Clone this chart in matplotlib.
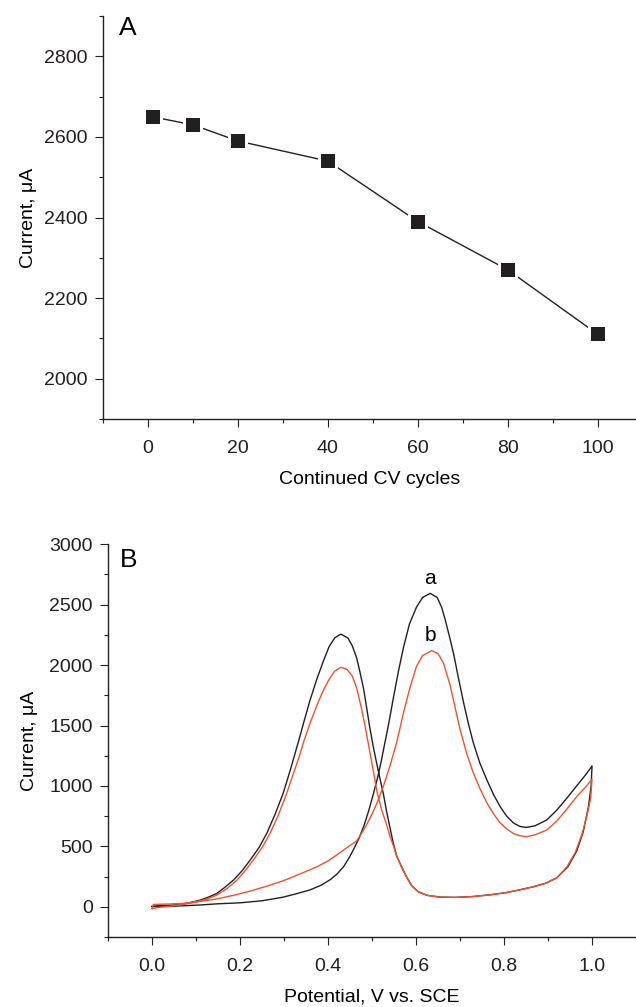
import matplotlib
matplotlib.use('Agg')
import matplotlib.pyplot as plt
import numpy as np
from matplotlib.ticker import MultipleLocator, FormatStrFormatter

# panel A: peak current vs. number of CV cycles
cycles = [1, 10, 20, 40, 60, 80, 100]
peakCurrent = [2650, 2630, 2590, 2540, 2390, 2270, 2110]

# panel B: cyclic voltammograms, forward scan 0 -> 1.0 V then back to 0
potA = [0.0, 0.05, 0.109, 0.15, 0.2, 0.25, 0.298, 0.33, 0.359, 0.385, 0.405,
        0.42, 0.435, 0.447, 0.458, 0.47, 0.481, 0.492, 0.503, 0.512, 0.52,
        0.526, 0.537, 0.548, 0.56, 0.571, 0.585, 0.601, 0.615, 0.632, 0.648,
        0.658, 0.666, 0.675, 0.685, 0.696, 0.708, 0.72, 0.73, 0.745, 0.761,
        0.776, 0.791, 0.806, 0.821, 0.836, 0.851, 0.87, 0.897, 0.92, 0.943,
        0.965, 0.985, 1.0,
        0.998, 0.992, 0.98, 0.965, 0.945, 0.92, 0.895, 0.867, 0.835, 0.806,
        0.77, 0.73, 0.69, 0.655, 0.625, 0.605, 0.59, 0.578, 0.566, 0.556,
        0.548, 0.541, 0.533, 0.526, 0.518, 0.511, 0.503, 0.495, 0.488, 0.481,
        0.472, 0.465, 0.455, 0.445, 0.429, 0.415, 0.402, 0.389, 0.375, 0.359,
        0.345, 0.336, 0.325, 0.314, 0.298, 0.28, 0.261, 0.243, 0.223, 0.205,
        0.185, 0.165, 0.147, 0.128, 0.109, 0.08, 0.05, 0.02, 0.0]
curA = [3, 5, 15, 25, 33, 50, 80, 110, 140, 180, 225,
        270, 331, 400, 475, 565, 665, 790, 935, 1060, 1190,
        1300, 1500, 1720, 1950, 2140, 2340, 2480, 2560, 2594, 2560,
        2480, 2380, 2250, 2100, 1900, 1690, 1500, 1360, 1190, 1050,
        930, 830, 750, 695, 665, 657, 670, 718, 800, 900,
        1000, 1090, 1165,
        1000, 830, 620, 460, 330, 240, 195, 166, 140, 118,
        100, 85, 78, 80, 95, 125, 175, 250, 340, 420,
        530, 650, 790, 930, 1060, 1180, 1320, 1480, 1640, 1800,
        1950, 2060, 2160, 2225, 2257, 2225, 2150, 2030, 1890, 1710,
        1530, 1410, 1270, 1130, 940, 770, 610, 490, 387, 300,
        221, 160, 110, 80, 55, 30, 15, 7, 3]

potB = [0.0, 0.003, 0.03, 0.071, 0.11, 0.147, 0.185, 0.223, 0.26, 0.298,
        0.335, 0.374, 0.40, 0.42, 0.443, 0.465, 0.48, 0.495, 0.511, 0.526,
        0.541, 0.556, 0.571, 0.586, 0.601, 0.615, 0.636, 0.65, 0.662,
        0.677, 0.69, 0.70, 0.715, 0.73, 0.745, 0.761, 0.776, 0.791, 0.806,
        0.821, 0.836, 0.851, 0.87, 0.897, 0.92, 0.943, 0.965, 0.985, 1.0,
        0.997, 0.99, 0.978, 0.962, 0.943, 0.92, 0.895, 0.867, 0.835, 0.806,
        0.77, 0.73, 0.69, 0.655, 0.625, 0.605, 0.59, 0.578, 0.566, 0.556,
        0.548, 0.541, 0.533, 0.522, 0.512, 0.503, 0.495, 0.484, 0.476, 0.465,
        0.455, 0.443, 0.429, 0.415, 0.402, 0.389, 0.375, 0.359, 0.345, 0.336,
        0.32, 0.306, 0.287, 0.268, 0.25, 0.23, 0.212, 0.193, 0.17, 0.147,
        0.125, 0.1, 0.07, 0.04, 0.015, 0.0]
curB = [-15, 20, 22, 28, 45, 65, 95, 130, 170, 215,
        270, 330, 380, 430, 490, 545, 630, 730, 856, 1000,
        1170, 1360, 1600, 1810, 1990, 2080, 2119, 2095, 2020,
        1840, 1630, 1470, 1270, 1110, 980, 860, 770, 695, 645,
        607, 588, 580, 595, 635, 710, 810, 910, 990, 1055,
        900, 780, 610, 450, 330, 240, 195, 166, 140, 118,
        100, 85, 78, 80, 95, 125, 175, 250, 340, 420,
        510, 580, 680, 800, 940, 1120, 1280, 1500, 1640, 1810,
        1910, 1965, 1982, 1950, 1880, 1790, 1670, 1520, 1370, 1260,
        1090, 939, 760, 607, 490, 387, 300, 221, 150, 97,
        65, 40, 18, 5, -5, -15]

plt.rcParams['font.family'] = ['Liberation Sans', 'DejaVu Sans']
plt.rcParams['font.size'] = 14

black = '#231f20'
red = '#f0532d'

fig = plt.figure(figsize=[6.36, 10.07], dpi=100)


def style_axes(ax):
    for side in ['top', 'right']:
        ax.spines[side].set_visible(False)
    for side in ['left', 'bottom']:
        ax.spines[side].set_linewidth(1.0)
        ax.spines[side].set_color(black)
    ax.tick_params(which='major', direction='out', length=6, width=0.8, colors=black)
    ax.tick_params(which='minor', direction='out', length=3, width=0.8, colors=black)
    ax.tick_params(axis='x', which='major', pad=9)
    ax.tick_params(axis='y', which='major', pad=5)


# %% panel A
ax1 = fig.add_axes([0.162, 0.584, 0.838, 0.400])
style_axes(ax1)
ax1.plot(cycles, peakCurrent, '-', color=black, lw=1.0, zorder=1)
ax1.plot(cycles, peakCurrent, 's', color='white', ms=14.5, mew=0, zorder=2)
ax1.plot(cycles, peakCurrent, 's', color=black, ms=10.3, mew=0, zorder=3)
ax1.set_xlim(-10, 108.5)
ax1.set_ylim(1900, 2900)
ax1.xaxis.set_major_locator(MultipleLocator(20))
ax1.xaxis.set_minor_locator(MultipleLocator(10))
ax1.yaxis.set_major_locator(MultipleLocator(200))
ax1.yaxis.set_minor_locator(MultipleLocator(100))
ax1.set_xlabel('Continued CV cycles', labelpad=10)
ax1.set_ylabel('Current, \u03bcA', labelpad=5)
ax1.text(0.03, 1.0, 'A', transform=ax1.transAxes, fontsize=19, va='top', ha='left')

# %% panel B
ax2 = fig.add_axes([0.170, 0.0695, 0.830, 0.390])
style_axes(ax2)
ax2.plot(potA, curA, '-', color=black, lw=1.0)
ax2.plot(potB, curB, '-', color=red, lw=1.0)
ax2.set_xlim(-0.1, 1.1)
ax2.set_ylim(-250, 3000)
ax2.xaxis.set_major_locator(MultipleLocator(0.2))
ax2.xaxis.set_minor_locator(MultipleLocator(0.1))
ax2.xaxis.set_major_formatter(FormatStrFormatter('%.1f'))
ax2.yaxis.set_major_locator(MultipleLocator(500))
ax2.yaxis.set_minor_locator(MultipleLocator(250))
ax2.set_xlabel('Potential, V vs. SCE', labelpad=10)
ax2.set_ylabel('Current, \u03bcA', labelpad=8)
ax2.text(0.023, 0.99, 'B', transform=ax2.transAxes, fontsize=19, va='top', ha='left')
ax2.text(0.632, 2640, 'a', ha='center', va='bottom', fontsize=15)
ax2.text(0.632, 2170, 'b', ha='center', va='bottom', fontsize=15)

fig.savefig('out.png', dpi=100)
